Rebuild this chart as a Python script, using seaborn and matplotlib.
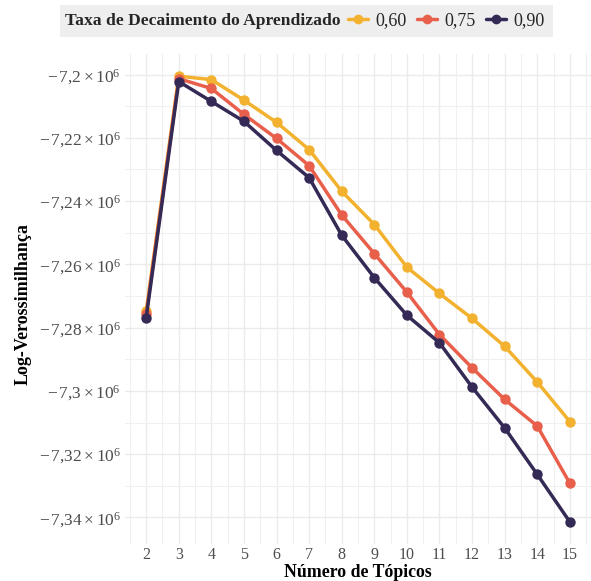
import numpy as np
import pandas as pd
import matplotlib
matplotlib.use("Agg")
import matplotlib.pyplot as plt
from matplotlib.lines import Line2D
from matplotlib.patches import Rectangle
from matplotlib.ticker import MultipleLocator
import seaborn as sns

# ── Dados ─────────────────────────────────────────────────────────────────────
topicos = list(range(2, 16))
taxas = ["0,60", "0,75", "0,90"]

ll_060 = [-7.2748, -7.2005, -7.2016, -7.2081, -7.2151, -7.2237, -7.2369,
          -7.2474, -7.2609, -7.2692, -7.2771, -7.2859, -7.2972, -7.3097]
ll_075 = [-7.2758, -7.2013, -7.2044, -7.2126, -7.2202, -7.2288, -7.2444,
          -7.2566, -7.2688, -7.2822, -7.2927, -7.3027, -7.3111, -7.3292]
ll_090 = [-7.2768, -7.2022, -7.2085, -7.2148, -7.2240, -7.2326, -7.2508,
          -7.2642, -7.2761, -7.2848, -7.2988, -7.3117, -7.3264, -7.3414]

y_ticks = [-7.20, -7.22, -7.24, -7.26, -7.28, -7.30, -7.32, -7.34]
y_labels = [r"$-\,7{,}2\times10^{6}$", r"$-\,7{,}22\times10^{6}$",
            r"$-\,7{,}24\times10^{6}$", r"$-\,7{,}26\times10^{6}$",
            r"$-\,7{,}28\times10^{6}$", r"$-\,7{,}3\times10^{6}$",
            r"$-\,7{,}32\times10^{6}$", r"$-\,7{,}34\times10^{6}$"]

cores = ["#F2B22F", "#E8604C", "#352A55"]

df = pd.DataFrame({
    "topicos": topicos * 3,
    "ll": np.array(ll_060 + ll_075 + ll_090) * 1e6,
    "taxa": [t for t in taxas for _ in topicos],
})

# ── Tema ──────────────────────────────────────────────────────────────────────
sns.set_theme(style="whitegrid")
plt.rcParams["font.family"] = ["Liberation Serif", "DejaVu Serif"]
plt.rcParams["mathtext.fontset"] = "custom"
plt.rcParams["mathtext.rm"] = "Liberation Serif"
plt.rcParams["mathtext.it"] = "Liberation Serif:italic"
plt.rcParams["mathtext.bf"] = "Liberation Serif:bold"

fig = plt.figure(figsize=(5.91, 5.81), dpi=100)
ax = fig.add_axes([125 / 591, 1 - 544 / 581, 466 / 591, 490 / 581])

sns.lineplot(data=df, x="topicos", y="ll", hue="taxa", palette=cores,
             marker="o", markersize=7.5, markeredgewidth=0, linewidth=2.5,
             errorbar=None, legend=False, ax=ax)

ax.set_xlim(1.35, 15.65)
ax.set_ylim(-7.3484e6, -7.1935e6)
ax.set_xticks(topicos)
ax.set_xticklabels([str(t) for t in topicos])
ax.set_yticks([v * 1e6 for v in y_ticks])
ax.set_yticklabels(y_labels)
ax.xaxis.set_minor_locator(MultipleLocator(0.5))
ax.yaxis.set_minor_locator(MultipleLocator(10000))

ax.grid(which="major", color="#EBEBEB", linewidth=1.0)
ax.grid(which="minor", color="#F0F0F0", linewidth=0.8)
ax.set_axisbelow(True)
for s in ax.spines.values():
    s.set_visible(False)
ax.tick_params(which="both", length=0, colors="#4D4D4D")
ax.tick_params(axis="y", labelsize=12.5, pad=3)
ax.tick_params(axis="x", labelsize=11.5, pad=2.5)

ax.set_xlabel("Número de Tópicos", fontsize=12.8, fontweight="bold",
              color="black")
ax.xaxis.set_label_coords(0.5, -0.040)
ax.set_ylabel("Log-Verossimilhança", fontsize=13, fontweight="bold",
              color="black")
ax.yaxis.set_label_coords(-0.200, 0.49)

# ── Legenda no topo ───────────────────────────────────────────────────────────
fig.patches.append(Rectangle((60 / 591, 1 - 37 / 581), 493 / 591, 32 / 581,
                             transform=fig.transFigure, facecolor="#EEEEEE",
                             edgecolor="none", zorder=0))
fig.text(65 / 591, 1 - 21 / 581, "Taxa de Decaimento do Aprendizado",
         fontsize=12.6, fontweight="bold", va="center", ha="left")
handles = [Line2D([], [], color=c, marker="o", markersize=7, linewidth=2.5,
                  markeredgewidth=0) for c in cores]
fig.legend(handles, taxas, loc="center left",
           bbox_to_anchor=(348 / 591, 1 - 21 / 581), ncol=3, frameon=False,
           fontsize=13, handlelength=1.1, handletextpad=0.4,
           columnspacing=0.6, borderpad=0, borderaxespad=0)

plt.savefig("out.png", dpi=100)
